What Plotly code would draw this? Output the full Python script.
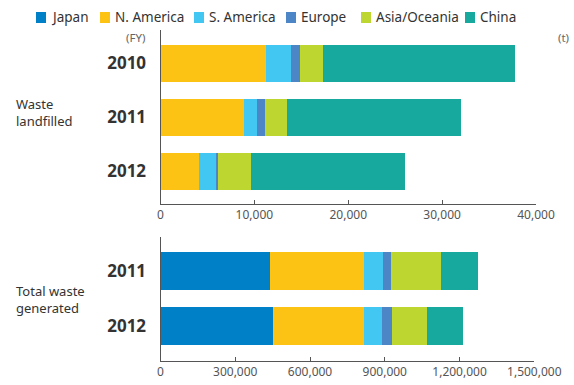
import plotly.graph_objects as go

regions = ["Japan", "N. America", "S. America", "Europe", "Asia/Oceania", "China"]
colors = ["#0080C6", "#FDC314", "#42C7F2", "#4D86C6", "#BED630", "#17A99D"]

years_landfill = ["2010", "2011", "2012"]
landfill_japan = [0, 0, 0]
landfill_namerica = [11200, 8900, 4150]
landfill_samerica = [2700, 1400, 1750]
landfill_europe = [950, 850, 200]
landfill_asia = [2450, 2350, 3500]
landfill_china = [20500, 18500, 16400]
landfill_totals = ["38,000", "32,100", "26,200"]

years_total = ["2011", "2012"]
total_japan = [439000, 451000]
total_namerica = [376000, 364000]
total_samerica = [76000, 72000]
total_europe = [32000, 40000]
total_asia = [201000, 141000]
total_china = [150000, 145000]
total_totals = ["1,280,000", "1,210,000"]

top_ticks = [0, 10000, 20000, 30000, 40000]
top_ticklabels = ["0", "10,000", "20,000", "30,000", "40,000"]
bot_ticks = [0, 300000, 600000, 900000, 1200000, 1500000]
bot_ticklabels = ["0", "300,000", "600,000", "900,000", "1,200,000", "1,500,000"]

landfill_series = [landfill_japan, landfill_namerica, landfill_samerica,
                   landfill_europe, landfill_asia, landfill_china]
total_series = [total_japan, total_namerica, total_samerica,
                total_europe, total_asia, total_china]

W, H = 574, 385
FONT = "Noto Sans"

fig = go.Figure()
for name, col, vals in zip(regions, colors, landfill_series):
    fig.add_trace(go.Bar(y=years_landfill, x=vals, orientation="h", name=name,
                         marker=dict(color=col, line=dict(width=0)),
                         xaxis="x", yaxis="y", showlegend=False))
for name, col, vals in zip(regions, colors, total_series):
    fig.add_trace(go.Bar(y=years_total, x=vals, orientation="h", name=name,
                         marker=dict(color=col, line=dict(width=0)),
                         xaxis="x2", yaxis="y2", showlegend=False))


def px_x(p):
    return p / W


def px_y(p):
    return 1 - p / H


axis_common = dict(showgrid=False, zeroline=False, showline=True,
                   linecolor="#555", linewidth=1, automargin=False)

fig.update_layout(
    width=W, height=H, autosize=False,
    margin=dict(l=0, r=0, t=0, b=0, pad=0),
    paper_bgcolor="white", plot_bgcolor="white",
    barmode="stack", bargap=0.32,
    font=dict(family=FONT, color="#333"),
    xaxis=dict(domain=[px_x(160.5), px_x(536)], range=[0, 40000], anchor="y",
               tickvals=top_ticks, ticktext=top_ticklabels,
               ticks="inside", ticklen=4, tickcolor="#555",
               tickfont=dict(size=12, color="#555"), **axis_common),
    yaxis=dict(domain=[px_y(204), px_y(30)], range=[2.602, -0.62], anchor="x",
               type="category", ticks="", ticklabelstandoff=10,
               tickfont=dict(size=17, color="#333", weight="bold"), **axis_common),
    xaxis2=dict(domain=[px_x(160.5), px_x(534.3)], range=[0, 1500000], anchor="y2",
                tickvals=bot_ticks, ticktext=bot_ticklabels,
                ticks="inside", ticklen=4, tickcolor="#555",
                tickfont=dict(size=12, color="#555"), **axis_common),
    yaxis2=dict(domain=[px_y(361), px_y(236.7)], range=[1.627, -0.615], anchor="x2",
                type="category", ticks="", ticklabelstandoff=10,
                tickfont=dict(size=17, color="#333", weight="bold"), **axis_common),
)

annotations = []
# totals
for i, yr in enumerate(years_landfill):
    s = sum(series[i] for series in landfill_series)
    annotations.append(dict(x=s, y=yr, xref="x", yref="y", text=landfill_totals[i],
                            showarrow=False, xanchor="left", xshift=5,
                            font=dict(size=15, color="#333", weight="bold")))
for i, yr in enumerate(years_total):
    s = sum(series[i] for series in total_series)
    annotations.append(dict(x=s, y=yr, xref="x2", yref="y2", text=total_totals[i],
                            showarrow=False, xanchor="left", xshift=5,
                            font=dict(size=15, color="#333", weight="bold")))

# unit labels
annotations.append(dict(x=px_x(147), y=px_y(37.5), xref="paper", yref="paper",
                        text="(FY)", showarrow=False, xanchor="right", yanchor="middle",
                        font=dict(size=11.5, color="#666")))
annotations.append(dict(x=px_x(571), y=px_y(37.5), xref="paper", yref="paper",
                        text="(t)", showarrow=False, xanchor="right", yanchor="middle",
                        font=dict(size=11.5, color="#666")))
# section labels
annotations.append(dict(x=px_x(14), y=px_y(112), xref="paper", yref="paper",
                        text="Waste<br>landfilled", showarrow=False, xanchor="left",
                        yanchor="middle", align="left",
                        font=dict(size=13, color="#333")))
annotations.append(dict(x=px_x(14), y=px_y(299), xref="paper", yref="paper",
                        text="Total waste<br>generated", showarrow=False, xanchor="left",
                        yanchor="middle", align="left",
                        font=dict(size=13, color="#333")))

# manual legend
legend_sq_x = [36, 100, 194, 286, 361, 465]
shapes = []
for name, col, lx in zip(regions, colors, legend_sq_x):
    shapes.append(dict(type="rect", xref="paper", yref="paper",
                       x0=px_x(lx), x1=px_x(lx + 10), y0=px_y(23), y1=px_y(12),
                       fillcolor=col, line=dict(width=0)))
    annotations.append(dict(x=px_x(lx + 13), y=px_y(17.5), xref="paper", yref="paper",
                            text=name, showarrow=False, xanchor="left", yanchor="middle",
                            font=dict(size=13.5, color="#333")))

fig.update_layout(annotations=annotations, shapes=shapes)

post = ("document.body.style.margin='0';"
        "document.body.style.padding='0';"
        "document.body.style.overflow='hidden';"
        "var gd=document.getElementById('{plot_id}');"
        "Plotly.relayout(gd,{width:574,height:385});")
fig.write_html("out.html", config={"responsive": False, "displayModeBar": False},
               post_script=post)
